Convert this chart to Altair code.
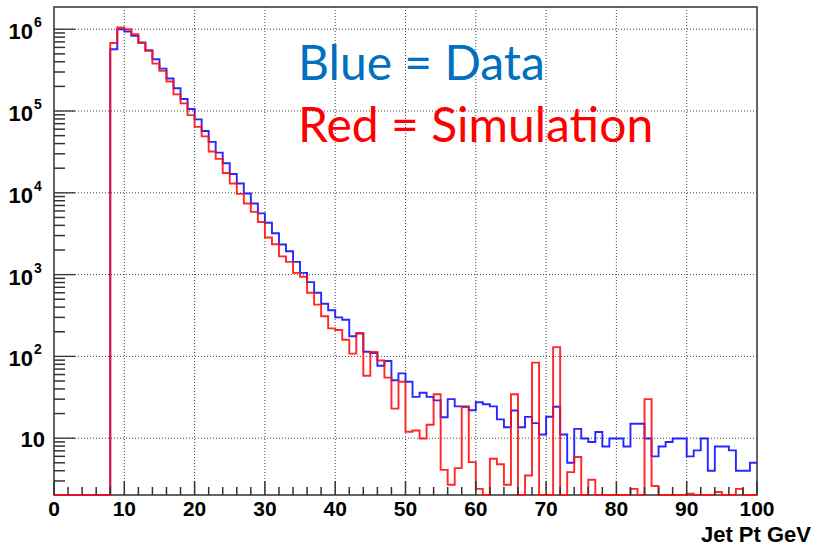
import altair as alt
import pandas as pd

# ---- data ----
pt_edges = list(range(0, 101))  # bin edges, 1 GeV bins

blue_counts = [0, 0, 0, 0, 0, 0, 0, 0,
               5.7e5, 1.0e6, 9.4e5, 8.3e5, 6.9e5, 5.5e5, 4.3e5, 3.3e5, 2.5e5, 1.9e5, 1.4e5, 1.06e5,
               7.9e4, 5.7e4, 4.2e4, 3.1e4, 2.3e4, 1.7e4, 1.3e4, 9.8e3, 7.4e3, 5.6e3,
               4.3e3, 3.2e3, 2.33e3, 1.93e3, 1.43e3, 1.05e3, 810, 600, 440, 366,
               300, 280, 176, 190, 114, 110, 77, 88, 51, 62,
               49, 32, 36, 32, 29, 18, 30, 24.5, 24.5, 22,
               27.5, 26, 24.5, 17, 13.6, 21.8, 13.6, 18.2, 15.3, 11.1,
               18.3, 24.2, 11.1, 5.0, 13, 9.9, 9.0, 11.9, 7.9, 9.9,
               9.9, 7.9, 15, 15, 9.9, 6.0, 7.9, 9.0, 9.9, 9.9,
               6.0, 7.1, 9.9, 4.0, 7.9, 7.9, 7.1, 4.0, 4.0, 5.0]

red_counts = [0, 0, 0, 0, 0, 0, 0, 0,
              6.8e5, 1.05e6, 1.0e6, 8.7e5, 6.8e5, 5.5e5, 3.8e5, 3.1e5, 2.3e5, 1.6e5, 1.24e5, 8.9e4,
              6.4e4, 4.9e4, 3.2e4, 2.6e4, 1.75e4, 1.3e4, 9.7e3, 7.4e3, 5.85e3, 4.4e3,
              2.84e3, 2.35e3, 1.67e3, 1.43e3, 1.05e3, 940, 600, 430, 310, 220,
              210, 160, 108, 193, 58, 113, 89, 55, 23, 49,
              12, 12.4, 9.9, 14.6, 34.5, 4.1, 2.7, 4.3, 24, 5.1,
              2.4, 0, 5.6, 4.8, 2.7, 34.5, 0, 3.5, 84, 0,
              0, 130, 0, 3.85, 5.9, 0, 3.1, 0, 0, 0,
              0, 0, 2.4, 0, 30, 2.6, 0, 0, 0, 0,
              2.1, 0, 0, 0, 2.2, 0, 0, 2.4, 0, 0]

x_major = list(range(0, 101, 10))
x_minor = [v for v in range(2, 100, 2) if v % 10 != 0]
x_grid = list(range(10, 100, 10))
y_exponents = [1, 2, 3, 4, 5, 6]
y_major = [10 ** k for k in y_exponents]

Y_MIN, Y_MAX = 2.02, 1.87e6
y_minor = [m * 10 ** k for k in range(0, 6) for m in range(2, 10)]
y_minor = [v for v in y_minor if Y_MIN < v < Y_MAX]

W, H = 703, 488
FONT = "Liberation Sans"
GRID = "#444"

# ---- tables ----
rows = []
for name, counts in (("Data", blue_counts), ("Simulation", red_counts)):
    for i, e in enumerate(pt_edges):
        v = counts[min(i, len(counts) - 1)]
        rows.append({"pt": e, "count": v, "series": name})
hist = pd.DataFrame(rows)

xs = alt.Scale(domain=[0, 100], nice=False, zero=False)
ys = alt.Scale(type="log", domain=[Y_MIN, Y_MAX], nice=False, zero=False)
X = lambda f="pt:Q": alt.X(f, scale=xs, axis=None)
Y = lambda f="disp:Q": alt.Y(f, scale=ys, axis=None)

# ---- grid (dotted) ----
xgrid = alt.Chart(pd.DataFrame({"pt": x_grid})).mark_rule(
    color=GRID, strokeWidth=1, strokeDash=[1, 2]).encode(x=X(), y=alt.value(0), y2=alt.value(H))
ygrid = alt.Chart(pd.DataFrame({"disp": y_major})).mark_rule(
    color=GRID, strokeWidth=1, strokeDash=[1, 2]).encode(y=Y(), x=alt.value(0), x2=alt.value(W))

def hist_layer(name, color):
    return (alt.Chart(hist)
            .transform_filter(alt.datum.series == name)
            .transform_calculate(disp=f"max(datum.count, {Y_MIN})")
            .mark_line(interpolate="step-after", color=color, strokeWidth=1.9, opacity=0.9)
            .encode(x=X(), y=Y(), order="pt:Q"))

blue_line = hist_layer("Data", "#1010ff")
red_line = hist_layer("Simulation", "#ff1010")

# ---- inward ticks ----
xt_major = alt.Chart(pd.DataFrame({"pt": x_major})).mark_rule(color="#333", strokeWidth=1.5).encode(
    x=X(), y=alt.value(H), y2=alt.value(H - 14))
xt_minor = alt.Chart(pd.DataFrame({"pt": x_minor})).mark_rule(color="#333", strokeWidth=1.5).encode(
    x=X(), y=alt.value(H), y2=alt.value(H - 8))
yt_major = alt.Chart(pd.DataFrame({"disp": y_major})).mark_rule(color="#333", strokeWidth=1.3).encode(
    y=Y(), x=alt.value(0), x2=alt.value(21))
yt_minor = alt.Chart(pd.DataFrame({"disp": y_minor})).mark_rule(color="#333", strokeWidth=1.5).encode(
    y=Y(), x=alt.value(0), x2=alt.value(11))

# ---- x labels ----
xlab = alt.Chart(pd.DataFrame({"pt": x_major, "lab": [str(v) for v in x_major]})).mark_text(
    font=FONT, fontWeight="bold", fontSize=21, align="center", baseline="alphabetic", color="black"
).encode(x=X(), y=alt.value(H + 21), text="lab:N")

# ---- y labels (10 with superscript exponent) ----
ylab = pd.DataFrame({"disp": y_major,
                     "base": ["10"] * len(y_major),
                     "exp": ["" if k == 1 else str(k) for k in y_exponents],
                     "k": y_exponents})
ylab_pow = alt.Chart(ylab).transform_filter(alt.datum.k > 1).mark_text(
    font=FONT, fontWeight="bold", fontSize=22, align="right", baseline="middle", dy=3, color="black"
).encode(y=Y(), x=alt.value(-21), text="base:N")
ylab_exp = alt.Chart(ylab).transform_filter(alt.datum.k > 1).mark_text(
    font=FONT, fontWeight="bold", fontSize=14, align="left", baseline="middle", dy=-6, color="black"
).encode(y=Y(), x=alt.value(-20), text="exp:N")
ylab_ten = alt.Chart(ylab).transform_filter(alt.datum.k == 1).mark_text(
    font=FONT, fontWeight="bold", fontSize=22, align="right", baseline="middle", dy=2, color="black"
).encode(y=Y(), x=alt.value(-9), text="base:N")

# ---- annotations ----
notes = pd.DataFrame({"t": ["Blue = Data", "Red = Simulation"]})
note_blue = alt.Chart(notes.iloc[[0]]).mark_text(
    font="Lato", fontSize=48, align="left", baseline="alphabetic", color="#0070C0"
).encode(x=alt.value(244), y=alt.value(73), text="t:N")
note_red = alt.Chart(notes.iloc[[1]]).mark_text(
    font="Lato", fontSize=48, align="left", baseline="alphabetic", color="#FF0000"
).encode(x=alt.value(244), y=alt.value(135), text="t:N")

xtitle = alt.Chart(pd.DataFrame({"t": ["Jet Pt GeV"]})).mark_text(
    font=FONT, fontWeight="bold", fontSize=22, align="right", baseline="alphabetic", color="black"
).encode(x=alt.value(757), y=alt.value(535), text="t:N")

chart = alt.layer(
    xgrid, ygrid,
    blue_line, red_line,
    xt_major, xt_minor, yt_major, yt_minor,
    xlab, ylab_pow, ylab_exp, ylab_ten,
    note_blue, note_red, xtitle
).properties(
    width=W, height=H,
    autosize=alt.AutoSizeParams(type="none"),
    padding={"left": 54, "top": 7, "right": 56, "bottom": 57},
    background="white"
).configure_view(
    stroke="#333", strokeWidth=1.5
)

chart.save("out.html", embed_options={"renderer": "svg", "actions": False})
